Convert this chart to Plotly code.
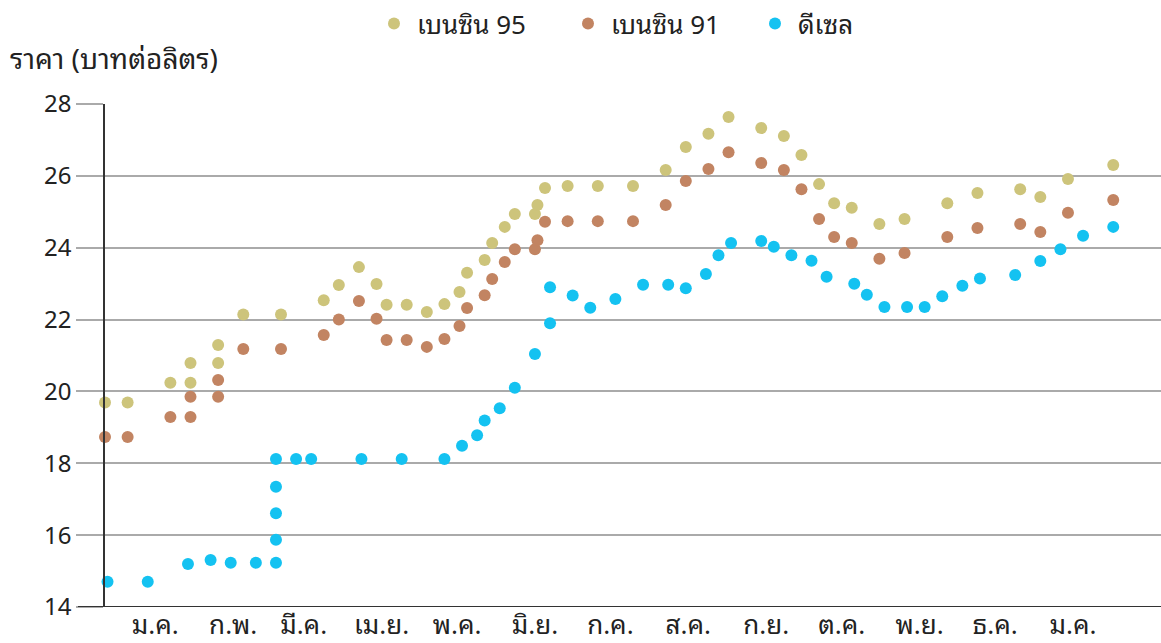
import plotly.graph_objects as go

# ---------------- data ----------------
gasoline_dates = [
    "2004-12-27", "2005-01-05", "2005-01-22", "2005-01-30", "2005-01-30",
    "2005-02-10", "2005-02-10", "2005-02-20", "2005-03-07", "2005-03-24",
    "2005-03-30", "2005-04-07", "2005-04-14", "2005-04-18", "2005-04-26",
    "2005-05-04", "2005-05-11", "2005-05-17", "2005-05-20", "2005-05-27",
    "2005-05-30", "2005-06-04", "2005-06-08", "2005-06-16", "2005-06-17",
    "2005-06-20", "2005-06-29", "2005-07-11", "2005-07-25", "2005-08-07",
    "2005-08-15", "2005-08-24", "2005-09-01", "2005-09-14", "2005-09-23",
    "2005-09-30", "2005-10-07", "2005-10-13", "2005-10-20", "2005-10-31",
    "2005-11-10", "2005-11-27", "2005-12-09", "2005-12-26", "2006-01-03",
    "2006-01-14", "2006-02-01",
]
benzin95 = [
    19.69, 19.69, 20.24, 20.24, 20.79, 20.79, 21.29, 22.14, 22.14, 22.54,
    22.96, 23.46, 22.99, 22.41, 22.41, 22.21, 22.43, 22.77, 23.30, 23.66,
    24.13, 24.58, 24.94, 24.94, 25.19, 25.66, 25.72, 25.72, 25.72, 26.16,
    26.80, 27.17, 27.64, 27.33, 27.11, 26.58, 25.77, 25.24, 25.11, 24.66,
    24.80, 25.24, 25.52, 25.63, 25.41, 25.91, 26.30,
]
benzin91 = [
    18.73, 18.73, 19.29, 19.29, 19.85, 19.85, 20.32, 21.18, 21.18, 21.57,
    22.00, 22.52, 22.02, 21.43, 21.43, 21.24, 21.46, 21.82, 22.32, 22.68,
    23.13, 23.60, 23.96, 23.96, 24.21, 24.72, 24.74, 24.74, 24.74, 25.19,
    25.86, 26.19, 26.66, 26.36, 26.16, 25.63, 24.80, 24.30, 24.13, 23.69,
    23.85, 24.30, 24.55, 24.66, 24.44, 24.97, 25.33,
]
diesel_dates = [
    "2004-12-28", "2005-01-13", "2005-01-29", "2005-02-07", "2005-02-15",
    "2005-02-25", "2005-03-05", "2005-03-05", "2005-03-05", "2005-03-05",
    "2005-03-05", "2005-03-13", "2005-03-19", "2005-04-08", "2005-04-24",
    "2005-05-11", "2005-05-18", "2005-05-24", "2005-05-27", "2005-06-02",
    "2005-06-08", "2005-06-16", "2005-06-22", "2005-06-22", "2005-07-01",
    "2005-07-08", "2005-07-18", "2005-07-29", "2005-08-08", "2005-08-15",
    "2005-08-23", "2005-08-28", "2005-09-02", "2005-09-14", "2005-09-19",
    "2005-09-26", "2005-10-04", "2005-10-10", "2005-10-21", "2005-10-26",
    "2005-11-02", "2005-11-11", "2005-11-18", "2005-11-25", "2005-12-03",
    "2005-12-10", "2005-12-24", "2006-01-03", "2006-01-11", "2006-01-20",
    "2006-02-01",
]
diesel = [
    14.70, 14.70, 15.20, 15.31, 15.23, 15.23, 15.23, 15.87, 16.61, 17.35,
    18.12, 18.12, 18.12, 18.12, 18.12, 18.12, 18.49, 18.78, 19.19, 19.53,
    20.10, 21.04, 21.90, 22.90, 22.67, 22.33, 22.57, 22.97, 22.97, 22.87,
    23.27, 23.79, 24.13, 24.19, 24.03, 23.79, 23.64, 23.19, 23.00, 22.69,
    22.35, 22.35, 22.35, 22.65, 22.94, 23.14, 23.24, 23.63, 23.96, 24.33,
    24.58,
]
month_ticks = [
    "2005-01-16", "2005-02-16", "2005-03-16", "2005-04-16", "2005-05-16",
    "2005-06-16", "2005-07-16", "2005-08-16", "2005-09-16", "2005-10-16",
    "2005-11-16", "2005-12-16", "2006-01-16",
]
month_labels = ["ม.ค.", "ก.พ.", "มี.ค.", "เม.ย.", "พ.ค.", "มิ.ย.", "ก.ค.",
                "ส.ค.", "ก.ย.", "ต.ค.", "พ.ย.", "ธ.ค.", "ม.ค."]
series_names = ["เบนซิน 95", "เบนซิน 91", "ดีเซล"]
y_title = "ราคา (บาทต่อลิตร)"

# ---------------- style ----------------
FONT = "Noto Sans Thai Looped, Noto Sans Thai, Noto Sans, Roboto, sans-serif"
TEXT = "#222222"
GRID = "#aaaaaa"
AXIS = "#333333"
colors = ["#CDC47B", "#C28462", "#14C2F1"]
legend_ids = ["legend", "legend2", "legend3"]
legend_x = [371, 565, 752]  # left edge of each legend box in pixels

fig = go.Figure()
for name, xs, ys, c, lg in [
    (series_names[0], gasoline_dates, benzin95, colors[0], legend_ids[0]),
    (series_names[1], gasoline_dates, benzin91, colors[1], legend_ids[1]),
    (series_names[2], diesel_dates, diesel, colors[2], legend_ids[2]),
]:
    fig.add_trace(go.Scatter(
        x=xs, y=ys, name=name, mode="markers", cliponaxis=False,
        marker=dict(size=12, color=c, line=dict(width=0)),
        legend=lg,
    ))

W, H = 1161, 643
legend_common = dict(
    orientation="h", xref="container", yref="container",
    xanchor="left", y=1.0, yanchor="top",
    font=dict(size=26, color=TEXT), itemsizing="constant", itemwidth=36,
    bgcolor="rgba(0,0,0,0)",
)
fig.update_layout(
    width=W, height=H,
    margin=dict(l=105, r=0, t=104, b=36),
    paper_bgcolor="white", plot_bgcolor="white",
    font=dict(family=FONT, size=24, color=TEXT),
    showlegend=True,
    legend=dict(legend_common, x=legend_x[0] / W),
    legend2=dict(legend_common, x=legend_x[1] / W),
    legend3=dict(legend_common, x=legend_x[2] / W),
    xaxis=dict(
        type="date", range=["2004-12-27", "2006-02-20"],
        tickmode="array", tickvals=month_ticks, ticktext=month_labels,
        showgrid=False, zeroline=False, showline=False, ticks="",
        tickfont=dict(size=26, color=TEXT), automargin=False,
    ),
    yaxis=dict(
        range=[14, 28], dtick=2, tick0=14,
        showgrid=True, gridcolor=GRID, gridwidth=1.5,
        zeroline=False, showline=True, linecolor=AXIS, linewidth=1.5,
        ticks="outside", ticklen=27, tickcolor=GRID, tickwidth=1.5,
        tickfont=dict(size=24, color=TEXT), automargin=False,
    ),
    shapes=[dict(
        type="line", xref="paper", yref="y", x0=-27 / 1056, x1=1,
        y0=14, y1=14, line=dict(color=AXIS, width=2), layer="above",
    )],
    annotations=[dict(
        text=y_title, xref="paper", yref="paper", x=0, y=1,
        xanchor="left", yanchor="bottom", xshift=-97, yshift=23,
        showarrow=False, font=dict(size=28, color=TEXT),
    )],
)

fig.write_html(
    "out.html",
    config={"displayModeBar": False},
    post_script="document.body.style.margin='0';document.body.style.overflow='hidden';",
)
